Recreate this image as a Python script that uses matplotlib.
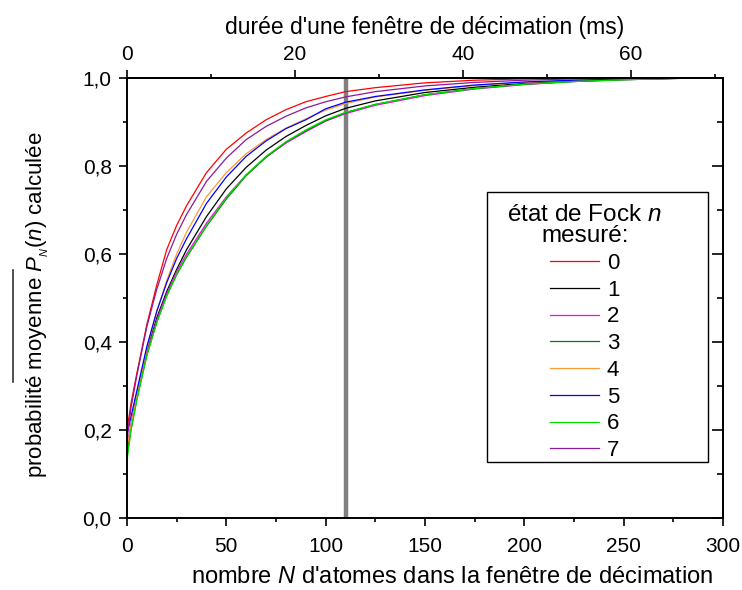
import matplotlib.pyplot as plt
from matplotlib.ticker import MultipleLocator, FixedLocator, FuncFormatter, NullFormatter
from matplotlib.lines import Line2D
from matplotlib.patches import Rectangle

plt.rcParams['font.family'] = ['Liberation Sans', 'DejaVu Sans']
plt.rcParams['mathtext.fontset'] = 'custom'
plt.rcParams['mathtext.rm'] = 'Liberation Sans'
plt.rcParams['mathtext.it'] = 'Liberation Sans:italic'

# nombre d'atomes N
N = [0, 2, 5, 10, 15, 20, 25, 30, 40, 50, 60, 70, 80, 90, 100, 110,
     125, 150, 175, 200, 225, 250, 275, 300]

p0 = [0.20, 0.26, 0.33, 0.44, 0.53, 0.61, 0.665, 0.71, 0.785, 0.838, 0.875, 0.905,
      0.928, 0.946, 0.958, 0.969, 0.978, 0.989, 0.995, 0.998, 0.999, 1.0, 1.0, 1.0]
p1 = [0.15, 0.21, 0.28, 0.38, 0.455, 0.515, 0.565, 0.61, 0.685, 0.748, 0.797, 0.836,
      0.867, 0.892, 0.914, 0.931, 0.948, 0.967, 0.979, 0.988, 0.993, 0.997, 0.999, 1.0]
p2 = [0.17, 0.21, 0.28, 0.375, 0.45, 0.51, 0.56, 0.60, 0.67, 0.73, 0.78, 0.82,
      0.852, 0.878, 0.902, 0.919, 0.938, 0.96, 0.975, 0.985, 0.992, 0.996, 0.999, 1.0]
p3 = [0.14, 0.20, 0.27, 0.37, 0.445, 0.505, 0.553, 0.593, 0.663, 0.725, 0.778, 0.82,
      0.854, 0.88, 0.903, 0.921, 0.94, 0.962, 0.976, 0.986, 0.992, 0.996, 0.999, 1.0]
p4 = [0.16, 0.21, 0.28, 0.385, 0.47, 0.54, 0.60, 0.65, 0.73, 0.785, 0.828, 0.86,
      0.886, 0.907, 0.927, 0.942, 0.957, 0.972, 0.983, 0.99, 0.995, 0.998, 0.999, 1.0]
p5 = [0.19, 0.23, 0.29, 0.39, 0.47, 0.535, 0.59, 0.635, 0.715, 0.775, 0.822, 0.857,
      0.885, 0.905, 0.93, 0.945, 0.958, 0.973, 0.984, 0.991, 0.995, 0.998, 0.999, 1.0]
p6 = [0.13, 0.20, 0.27, 0.37, 0.445, 0.505, 0.555, 0.595, 0.665, 0.728, 0.78, 0.822,
      0.855, 0.882, 0.905, 0.922, 0.94, 0.962, 0.976, 0.986, 0.992, 0.996, 0.999, 1.0]
p7 = [0.18, 0.25, 0.325, 0.435, 0.52, 0.59, 0.645, 0.69, 0.765, 0.818, 0.86, 0.89,
      0.913, 0.932, 0.946, 0.957, 0.969, 0.982, 0.99, 0.995, 0.998, 0.999, 1.0, 1.0]

series = [p0, p1, p2, p3, p4, p5, p6, p7]
labels = ['0', '1', '2', '3', '4', '5', '6', '7']
colors = ['#ff0000', '#000000', '#ff00ff', '#008000', '#ff9933', '#0000ff', '#00dd00', '#8b1a9b']

N_coupure = 110          # ligne verticale grise
ms_par_atome = 71 / 300  # conversion N -> ms

fig = plt.figure(figsize=(7.42, 5.90), dpi=100)
ax = fig.add_axes([127 / 742, 72 / 590, 596 / 742, 440 / 590])

for vals, lab, c in zip(series, labels, colors):
    ax.plot(N, vals, color=c, lw=0.9, label=lab)

ax.axvline(N_coupure, color='#808080', lw=3.2, zorder=1)

ax.set_xlim(0, 300)
ax.set_ylim(0, 1.0)
ax.xaxis.set_major_locator(MultipleLocator(50))
ax.xaxis.set_minor_locator(MultipleLocator(25))
ax.yaxis.set_major_locator(MultipleLocator(0.2))
ax.yaxis.set_minor_locator(MultipleLocator(0.1))
ax.yaxis.set_major_formatter(FuncFormatter(lambda v, p: f'{v:.1f}'.replace('.', ',')))

for s in ax.spines.values():
    s.set_linewidth(1.4)
ax.tick_params(which='both', direction='out', labelsize=15, width=1.2)
ax.tick_params(axis='x', pad=8)
ax.tick_params(axis='y', pad=5)
ax.tick_params(which='major', length=6)
ax.tick_params(which='minor', length=3)

# axe de droite : graduations internes sans etiquettes
sy = ax.secondary_yaxis('right')
sy.yaxis.set_major_locator(MultipleLocator(0.2))
sy.yaxis.set_minor_locator(MultipleLocator(0.1))
sy.yaxis.set_major_formatter(NullFormatter())
sy.tick_params(which='both', direction='in', width=1.2)
sy.tick_params(which='major', length=8)
sy.tick_params(which='minor', length=4)
sy.spines['right'].set_linewidth(1.4)

ax.set_xlabel("nombre $N$ d'atomes dans la fenêtre de décimation", fontsize=17)
ax.xaxis.set_label_coords(0.545, -0.108)
ax.set_ylabel("probabilité moyenne $P_{_N}(n)$ calculée", fontsize=16)
ax.yaxis.set_label_coords(-0.128, 0.485)

# axe du haut en ms
sec = ax.secondary_xaxis('top', functions=(lambda x: x * ms_par_atome, lambda t: t / ms_par_atome))
sec.xaxis.set_major_locator(FixedLocator([0, 20, 40, 60]))
sec.xaxis.set_minor_locator(FixedLocator([10, 30, 50, 70]))
sec.tick_params(which='both', direction='out', labelsize=15, width=1.2, pad=4)
sec.tick_params(which='major', length=6)
sec.tick_params(which='minor', length=3)
sec.spines['top'].set_linewidth(1.4)
sec.set_xlabel("durée d'une fenêtre de décimation (ms)", fontsize=16.5, labelpad=8)

# barre au-dessus de P_N(n)
fig.add_artist(Line2D([13 / 742, 13 / 742], [1 - 382 / 590, 1 - 270 / 590],
                      color='#333333', lw=1.2, transform=fig.transFigure))

# cadre de la légende
ax.add_patch(Rectangle((0.604, 0.127), 0.371, 0.614, transform=ax.transAxes,
                       fill=True, facecolor='white', edgecolor='black', lw=1.0, zorder=4))

leg = ax.legend(loc='upper center', bbox_to_anchor=(0.768, 0.714),
                title="état de Fock $n$\nmesuré:", fontsize=16, title_fontsize=17.5,
                frameon=False, handlelength=2.2,
                labelspacing=0.26, borderpad=0, handletextpad=0.35, borderaxespad=0)
leg.set_zorder(5)
leg.get_title().set_multialignment('center')
leg.get_title().set_linespacing(0.95)

fig.savefig('out.png', dpi=100)
